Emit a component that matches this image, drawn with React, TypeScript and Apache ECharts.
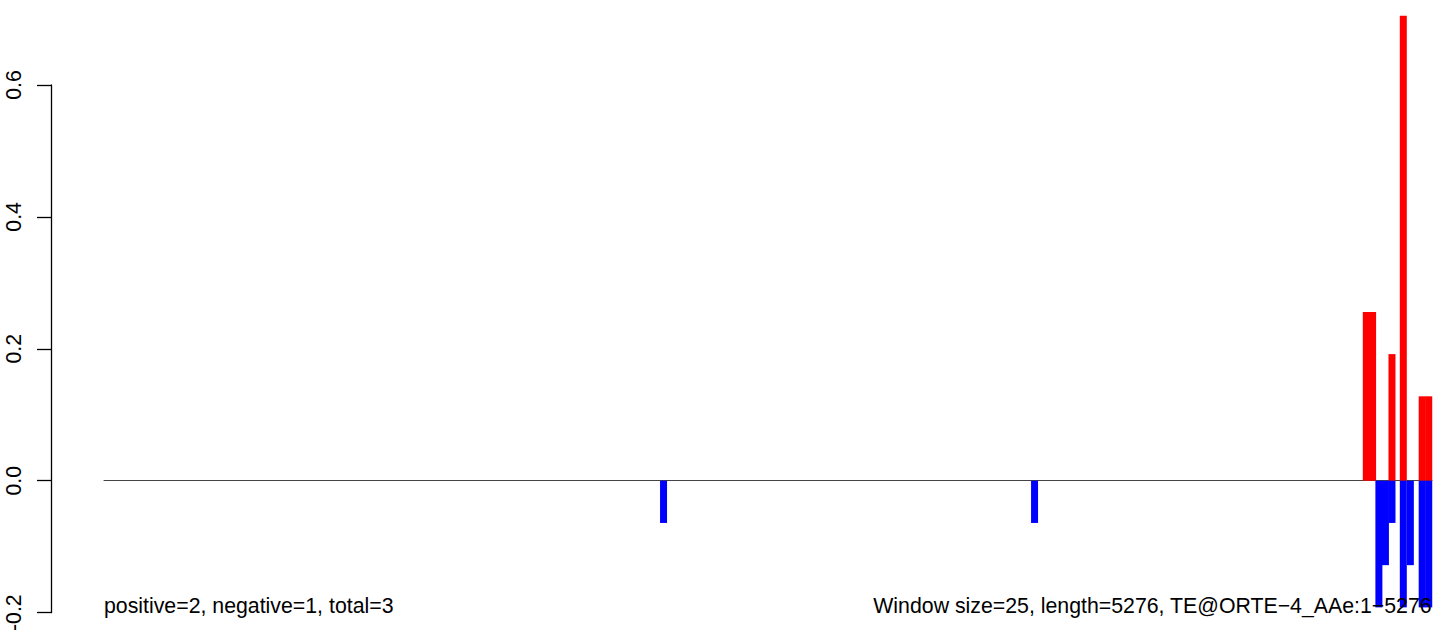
import React, { useEffect, useRef } from "react";
import * as echarts from "echarts";

// Sequence / window info
const seqLength = 5276;
const windowSize = 25;

// Negative-strand (blue) window positions (bp) and scores
const negPositions = [2223, 3697, 5065, 5091, 5117, 5162, 5190, 5237, 5263];
const negValues = [-0.064, -0.064, -0.192, -0.128, -0.064, -0.192, -0.128, -0.192, -0.192];

// Positive-strand (red) window positions (bp) and scores
const posPositions = [5015, 5040, 5117, 5162, 5237, 5263];
const posValues = [0.256, 0.256, 0.192, 0.705, 0.128, 0.128];

// Y axis ticks
const yMin = -0.2;
const yMax = 0.6;
const yStep = 0.2;

// Annotation texts
const countPositive = 2;
const countNegative = 1;
const countTotal = 3;
const seqName = "TE@ORTE\u22124_AAe";

const leftNote = `positive=${countPositive}, negative=${countNegative}, total=${countTotal}`;
const rightNote = `Window size=${windowSize}, length=${seqLength}, ${seqName}:1\u2212${seqLength}`;

const FONT = "'Liberation Sans', Arial, Helvetica, sans-serif";
const FS = 21.3;

export default function App() {
  const ref = useRef<HTMLDivElement>(null);

  useEffect(() => {
    if (!ref.current) return;
    const chart = echarts.init(ref.current, undefined, { renderer: "svg" });

    const posData = posPositions.map((p, i) => [p, posValues[i]]);
    const negData = negPositions.map((p, i) => [p, negValues[i]]);

    const option: any = {
      animation: false,
      backgroundColor: "#ffffff",
      grid: { left: 104, right: 12, top: 85, bottom: 16, containLabel: false },
      xAxis: {
        type: "value",
        min: 0,
        max: seqLength,
        axisLine: { show: true, onZero: true, lineStyle: { color: "#444444", width: 1 } },
        axisTick: { show: false },
        axisLabel: { show: false },
        splitLine: { show: false },
      },
      yAxis: {
        type: "value",
        min: yMin,
        max: yMax,
        interval: yStep,
        offset: 53,
        axisLine: { show: true, onZero: false, lineStyle: { color: "#000000", width: 1.3 } },
        axisTick: { show: true, length: 14, lineStyle: { color: "#000000", width: 1.3 } },
        axisLabel: {
          rotate: 90,
          margin: 27,
          fontSize: FS,
          fontFamily: FONT,
          color: "#000000",
          formatter: (v: number) => v.toFixed(1),
        },
        splitLine: { show: false },
      },
      series: [
        {
          type: "bar",
          name: "positive",
          data: posData,
          barWidth: 7,
          barGap: "-100%",
          clip: false,
          z: 2,
          itemStyle: { color: "#ff0000" },
        },
        {
          type: "bar",
          name: "negative",
          data: negData,
          barWidth: 7,
          barGap: "-100%",
          clip: false,
          z: 2,
          itemStyle: { color: "#0000ff" },
        },
      ],
      graphic: [
        {
          type: "text",
          left: 104,
          top: 595,
          z: 10,
          style: { text: leftNote, fontSize: FS, fontFamily: FONT, fill: "#000000" },
        },
        {
          type: "text",
          right: 12,
          top: 595,
          z: 10,
          style: { text: rightNote, fontSize: FS, fontFamily: FONT, fill: "#000000" },
        },
      ],
    };

    chart.setOption(option);
    return () => chart.dispose();
  }, []);

  return (
    <div
      ref={ref}
      style={{ position: "absolute", left: 0, top: 0, width: 1444, height: 634, background: "#fff" }}
    />
  );
}
